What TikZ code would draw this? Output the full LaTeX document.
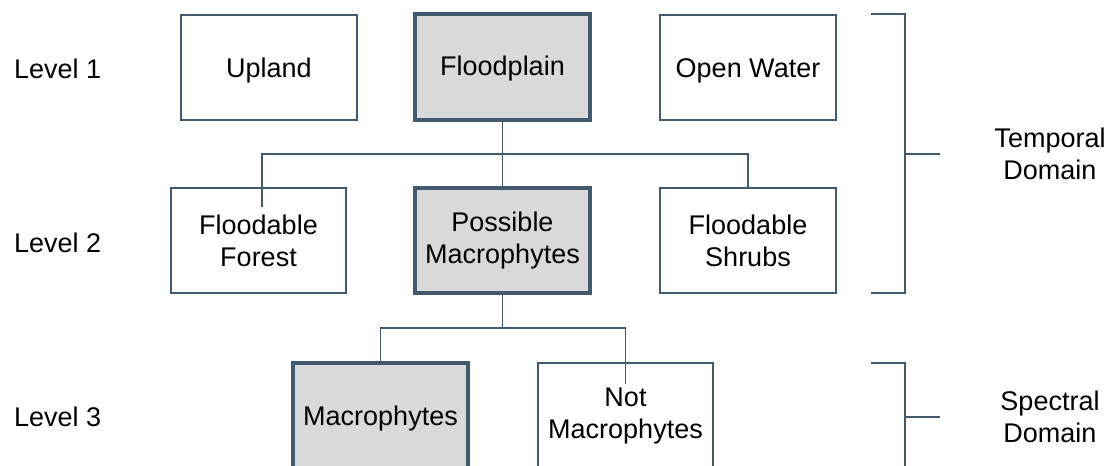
\documentclass[tikz,border=0pt]{standalone}
\usepackage{fontspec}
\setmainfont{Liberation Sans}
\usetikzlibrary{calc}
\definecolor{edge}{HTML}{43596E}
\definecolor{boxfill}{HTML}{D9D9D9}
\tikzset{
  box/.style={draw=edge, line width=1.6pt, fill=white, rectangle, inner sep=0pt, align=center, font=\fontsize{27}{32}\selectfont},
  hbox/.style={box, line width=3.8pt, fill=boxfill},
  conn/.style={draw=edge, line width=1.8pt},
  lbl/.style={font=\fontsize{27}{32}\selectfont, align=center, inner sep=0pt},
}
\newcommand{\lowstrut}{\rule{0pt}{25pt}}
\begin{document}
\begin{tikzpicture}[x=1pt,y=-1pt]
\useasboundingbox[fill=white] (0,0) rectangle (1112,466);
% Level 1
\node[box, minimum width=176pt, minimum height=105pt] (up) at (269,67.5) {\lowstrut Upland};
\node[hbox, minimum width=175pt, minimum height=106pt] (fp) at (502.5,67) {\rule{0pt}{22pt}Floodplain};
\node[box, minimum width=176pt, minimum height=105pt] (ow) at (748,67.5) {\lowstrut Open Water};
% Level 2
\node[box, minimum width=175pt, minimum height=105pt] (ff) at (258.5,240.5) {Floodable\\Forest};
\node[hbox, minimum width=175pt, minimum height=105pt] (pm) at (502.5,240.5) {Possible\\Macrophytes};
\node[box, minimum width=176pt, minimum height=105pt] (fs) at (748,240.5) {Floodable\\Shrubs};
% Level 3
\node[hbox, minimum width=175pt, minimum height=107pt] (mac) at (380.5,416.5) {\rule{0pt}{23pt}Macrophytes};
\node[box, minimum width=175pt, minimum height=107pt] (nm) at (625.5,416.5) {Not\\Macrophytes};
% connectors
\coordinate (j1) at (502.5,154);
\coordinate (ffend) at (262,207);
\coordinate (j2) at (502.5,328);
\coordinate (nmend) at (625.5,384);
\draw[conn] (fp.south) -- (pm.north);
\draw[conn] (ffend) |- (j1) -| (fs.north);
\draw[conn] (pm.south) -- (j2);
\draw[conn] (mac.north) |- (j2) -| (nmend);
% level labels
\node[lbl, anchor=west] (l1) at (14,69) {Level 1};
\node[lbl, anchor=west] (l2) at (14,243) {Level 2};
\node[lbl, anchor=west] (l3) at (14,417) {Level 3};
% brackets
\coordinate (bt1) at (871,14);
\coordinate (bt2) at (905,293);
\coordinate (bt3) at (871,293);
\coordinate (btm) at (905,154);
\coordinate (btt) at (940,154);
\draw[conn] (bt1) -| (bt2) -- (bt3);
\draw[conn] (btm) -- (btt);
\node[lbl] (td) at (1050,154) {Temporal\\Domain};
\coordinate (bs1) at (871,363);
\coordinate (bs2) at (905,480);
\coordinate (bsm) at (905,417);
\coordinate (bst) at (940,417);
\draw[conn] (bs1) -| (bs2);
\draw[conn] (bsm) -- (bst);
\node[lbl] (sd) at (1050,417) {Spectral\\Domain};
\end{tikzpicture}
\end{document}
